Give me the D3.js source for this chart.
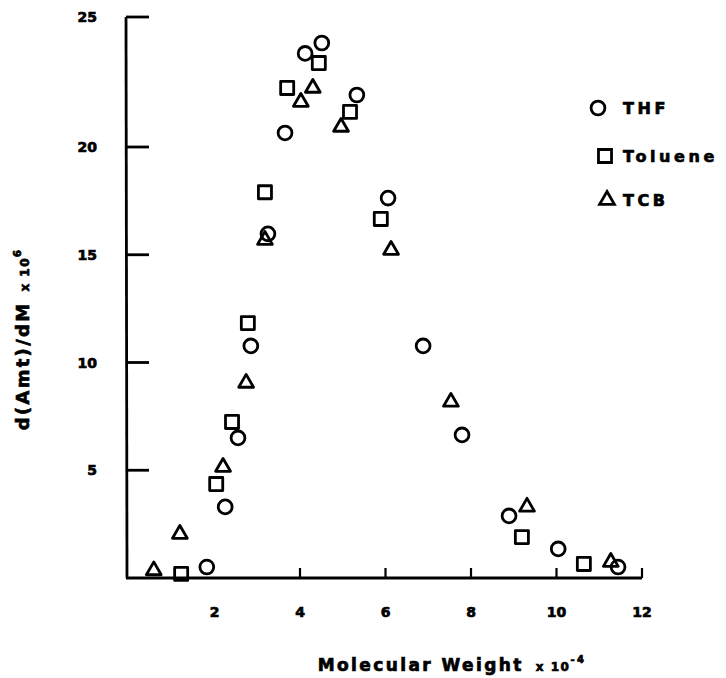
<!DOCTYPE html>
<html><head><meta charset="utf-8">
<script src="https://cdn.jsdelivr.net/npm/d3@7"></script>
<style>body{margin:0;background:#fff}svg{display:block}text{font-family:"DejaVu Sans",sans-serif;font-weight:bold;fill:#000;stroke:#000;stroke-width:0.7px}</style>
</head><body><svg id="c" width="726" height="678"></svg>
<script>
const thfX = [1.82, 2.25, 2.55, 2.85, 3.25, 3.65, 4.12, 4.51, 5.33, 6.06, 6.88, 7.79, 8.89, 10.04, 11.44];
const thfY = [0.51, 3.3, 6.5, 10.77, 15.97, 20.54, 23.6, 24.0, 22.0, 17.63, 10.77, 6.64, 2.88, 1.35, 0.51];
const tolX = [1.22, 2.04, 2.41, 2.78, 3.18, 3.7, 4.44, 5.17, 5.89, 9.19, 10.64];
const tolY = [0.19, 4.36, 7.24, 11.83, 17.9, 22.27, 23.23, 21.35, 16.66, 1.9, 0.65];
const tcbX = [0.58, 1.19, 2.2, 2.74, 3.18, 4.02, 4.3, 4.96, 6.13, 7.53, 9.31, 11.27];
const tcbY = [0.35, 2.04, 5.15, 9.05, 15.68, 21.73, 22.27, 20.77, 15.22, 8.17, 3.3, 0.74];
const xTicks = [2, 4, 6, 8, 10, 12];
const xTickMarks = [4, 6, 8, 10, 12];
const yTicks = [5, 10, 15, 20, 25];
const seriesNames = ["THF", "Toluene", "TCB"];

const svg = d3.select("#c");
const x = d3.scaleLinear().domain([0, 12]).range([129, 642]);
const y = d3.scaleLinear().domain([0, 20, 25]).range([578, 147, 17]);
const SW = 2.8;

// axes
const g = svg.append("g");
g.append("line").attr("x1", x(0) - 3).attr("x2", x(12)).attr("y1", y(0)).attr("y2", y(0))
  .attr("stroke", "#000").attr("stroke-width", 2.8);
g.append("line").attr("x1", 126).attr("x2", 127).attr("y1", y(25)).attr("y2", y(0))
  .attr("stroke", "#000").attr("stroke-width", 2.8);
g.selectAll(".yt").data(yTicks).enter().append("line")
  .attr("x1", 126).attr("x2", 149).attr("y1", d => y(d)).attr("y2", d => y(d))
  .attr("stroke", "#000").attr("stroke-width", 2.8);
g.selectAll(".xt").data(xTickMarks).enter().append("line")
  .attr("x1", d => x(d)).attr("x2", d => x(d)).attr("y1", y(0)).attr("y2", y(0) - 10)
  .attr("stroke", "#000").attr("stroke-width", 2.2);
g.selectAll(".yl").data(yTicks).enter().append("text")
  .attr("x", 97).attr("y", d => y(d) + 5).attr("text-anchor", "end")
  .attr("font-size", 14).text(d => d);
g.selectAll(".xl").data(xTicks).enter().append("text")
  .attr("x", d => x(d)).attr("y", 617).attr("text-anchor", "middle")
  .attr("font-size", 14).text(d => d);

// axis titles
const xt = svg.append("text").attr("x", 452).attr("y", 671).attr("text-anchor", "middle")
  .attr("font-size", 17).attr("letter-spacing", 2.4);
xt.append("tspan").text("Molecular Weight");
xt.append("tspan").attr("dx", 12).attr("font-size", 12).attr("letter-spacing", 1.5).text("x 10");
xt.append("tspan").attr("dy", -8).attr("font-size", 10).text("-4");

const yt = svg.append("text").attr("transform", "translate(29,339) rotate(-90)")
  .attr("text-anchor", "middle").attr("font-size", 18).attr("letter-spacing", 2.3);
yt.append("tspan").text("d(Amt)/dM");
yt.append("tspan").attr("dx", 10).attr("font-size", 12).attr("letter-spacing", 1.5).text("x 10");
yt.append("tspan").attr("dy", -8).attr("font-size", 10).text("6");

// symbols
const symC = d3.symbol().type(d3.symbolCircle).size(150)();
const symS = d3.symbol().type(d3.symbolSquare).size(170)();
const symT = d3.symbol().type(d3.symbolTriangle).size(95)();
const syms = [symC, symS, symT];
const data = [
  thfX.map((v, i) => ({x: v, y: thfY[i]})),
  tolX.map((v, i) => ({x: v, y: tolY[i]})),
  tcbX.map((v, i) => ({x: v, y: tcbY[i]}))
];
data.forEach((arr, k) => {
  svg.append("g").selectAll("path").data(arr).enter().append("path")
    .attr("d", syms[k]).attr("transform", d => `translate(${x(d.x)},${y(d.y)})`)
    .attr("fill", "none").attr("stroke", "#000").attr("stroke-width", SW)
    .attr("stroke-linejoin", "round");
});

// legend
const leg = svg.append("g");
const legY = [108, 156, 200];
const legSX = [598, 605, 607];
seriesNames.forEach((n, k) => {
  leg.append("path").attr("d", syms[k]).attr("transform", `translate(${legSX[k]},${legY[k]})`)
    .attr("fill", "none").attr("stroke", "#000").attr("stroke-width", SW);
  leg.append("text").attr("x", 623).attr("y", legY[k] + 6).attr("font-size", 16)
    .attr("letter-spacing", 3.6).text(n);
});
</script></body></html>
